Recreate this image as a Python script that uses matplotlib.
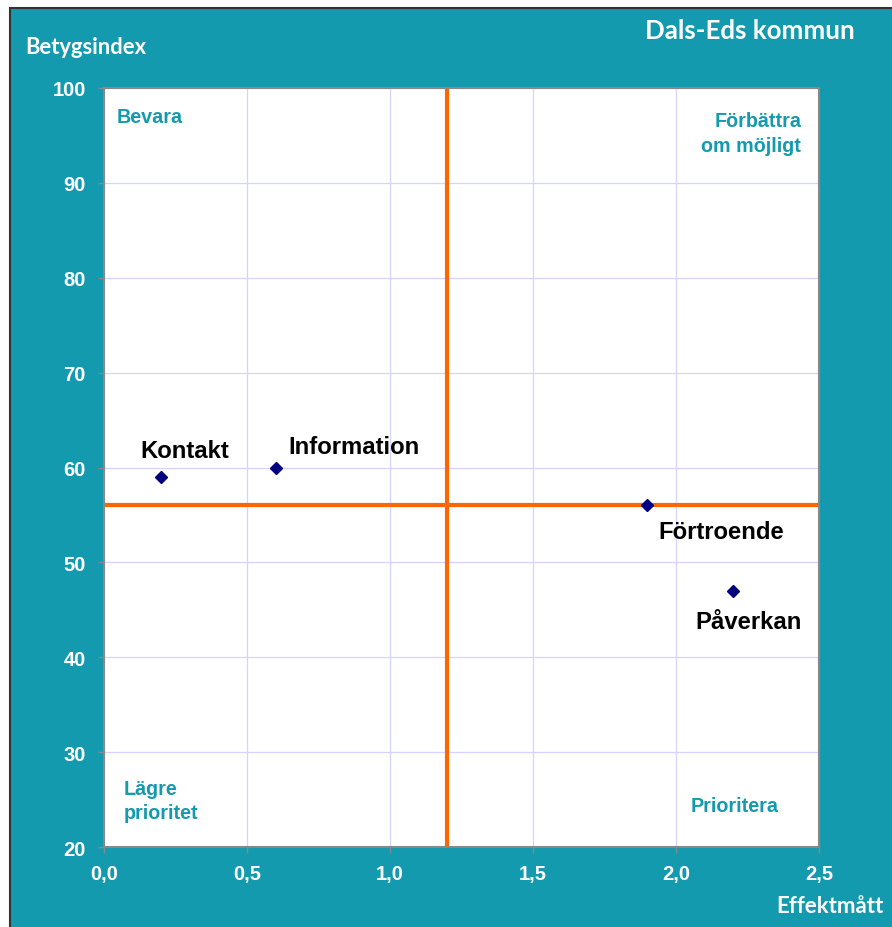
import matplotlib
matplotlib.use("Agg")
from matplotlib import pyplot as plt
from matplotlib.patches import Rectangle

# data
names = ["Kontakt", "Information", "Förtroende", "Påverkan"]
effekt = [0.2, 0.6, 1.9, 2.2]
betyg = [59, 60, 56, 47]
label_offsets = [(-15, 19), (9, 15), (8, -19), (-27, -22)]  # points

x_ticks = [0.0, 0.5, 1.0, 1.5, 2.0, 2.5]
x_ticklabels = ["0,0", "0,5", "1,0", "1,5", "2,0", "2,5"]
y_ticks = [20, 30, 40, 50, 60, 70, 80, 90, 100]

mid_x = 1.2
mid_y = 56

teal = "#149aaf"
orange = "#ff6600"

fig = plt.figure(figsize=(8.92, 9.28), dpi=100, facecolor="white")
fig.patches.append(Rectangle((10 / 892, -0.01), 1.0, 1 - 9 / 928 + 0.01,
                             transform=fig.transFigure, facecolor=teal,
                             edgecolor="#333333", linewidth=1.5, zorder=-5))

ax = fig.add_axes([104 / 892, 1 - 848 / 928, 715 / 892, 759 / 928])
ax.set_zorder(2)
ax.set_facecolor("white")
ax.set_xlim(0, 2.5)
ax.set_ylim(20, 100)
ax.set_xticks(x_ticks)
ax.set_xticklabels(x_ticklabels)
ax.set_yticks(y_ticks)
ax.grid(True, color="#d4d4ff", linewidth=0.9)
ax.set_axisbelow(True)
for s in ax.spines.values():
    s.set_color("#888888")
    s.set_linewidth(1.5)
ax.tick_params(axis="both", colors="#888888", length=4, width=1, labelcolor="white",
               labelsize=14.5)
ax.tick_params(axis="y", pad=9)
ax.tick_params(axis="x", pad=8)
for lab in ax.get_xticklabels() + ax.get_yticklabels():
    lab.set_fontweight("bold")
    lab.set_family("Liberation Sans")

ax.axvline(mid_x, color=orange, linewidth=3, zorder=2)
ax.axhline(mid_y, color=orange, linewidth=3, zorder=2)

ax.plot(effekt, betyg, linestyle="none", marker="D", markersize=6,
        color="#000080", zorder=3)
for n, xv, yv, off in zip(names, effekt, betyg, label_offsets):
    ax.annotate(n, (xv, yv), xytext=off, textcoords="offset points",
                ha="left", va="center", fontsize=17.2, fontweight="bold",
                family="Liberation Sans", color="black")

qfont = dict(fontsize=14.2, fontweight="bold", family="Liberation Sans",
             color=teal, transform=ax.transAxes, va="center")
ax.text(0.018, 0.962, "Bevara", ha="left", **qfont)
ax.text(0.975, 0.941, "Förbättra\nom möjligt", ha="right", multialignment="right",
        linespacing=1.4, **qfont)
ax.text(0.027, 0.061, "Lägre\nprioritet", ha="left", linespacing=1.3, **qfont)
ax.text(0.82, 0.055, "Prioritera", ha="left", **qfont)

tfont = dict(fontweight="bold", family="Lato", color="white")
fig.text(25 / 892, 1 - 48 / 928, "Betygsindex", ha="left", va="center",
         fontsize=15.8, **tfont)
fig.text(855 / 892, 1 - 31 / 928, "Dals-Eds kommun", ha="right", va="center",
         fontsize=18.6, **tfont)
fig.text(883 / 892, 1 - 907 / 928, "Effektmått", ha="right", va="center",
         fontsize=16, **tfont)

fig.savefig("out.png", dpi=100, facecolor=fig.get_facecolor())
